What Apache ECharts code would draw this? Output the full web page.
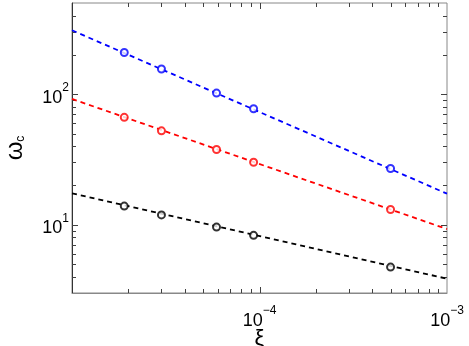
<!DOCTYPE html>
<html>
<head>
<meta charset="utf-8">
<script src="https://cdn.jsdelivr.net/npm/echarts@6/dist/echarts.min.js"></script>
<style>html,body{margin:0;padding:0;background:#fff;}#c{width:469px;height:346px;}</style>
</head>
<body>
<div id="c"></div>
<script>
// data
var xi = [1.9e-5, 3.0e-5, 5.9e-5, 9.3e-5, 5.0e-4];
var blueVals = [209, 156, 102, 77.4, 27.0];
var redVals = [66.5, 52.4, 37.7, 30.1, 13.1];
var blackVals = [13.9, 11.9, 9.6, 8.3, 4.74];
var fitX = [1e-5, 1e-3];
var blueFit = [309, 17.3];
var redFit = [92, 9.27];
var blackFit = [17.4, 3.86];
var xMajorLabels = [1e-4, 1e-3];
var yMajorLabels = [10, 100];
var xMajorTicks = [1e-4];
var yMajorTicks = [10, 100];
var xMinor = [2e-5,3e-5,4e-5,5e-5,6e-5,7e-5,8e-5,9e-5,2e-4,3e-4,4e-4,5e-4,6e-4,7e-4,8e-4,9e-4];
var yMinor = [4,5,6,7,8,9,20,30,40,50,60,70,80,90,200,300,400];
var xRange = [1e-5, 1e-3];
var yRange = [3, 500];

function pairs(xs, ys){ return xs.map(function(x,i){return [x, ys[i]];}); }
function powLabel(v){
  var e = Math.round(Math.log10(v));
  var s = e < 0 ? '\u2212' + (-e) : String(e);
  return '{b|10}{e|' + s + '}';
}
var FONT = '"Liberation Sans", Arial, Helvetica, sans-serif';
var richLab = {
  b: {fontSize: 18, fontFamily: FONT, color: '#000', padding: [7,0,0,0]},
  e: {fontSize: 12, fontFamily: FONT, color: '#000', verticalAlign: 'top'}
};

var xAxis = {
  type: 'log', logBase: 10, min: xRange[0], max: xRange[1], position: 'bottom',
  axisLine: {show: true, onZero: false, lineStyle: {color: '#888', width: 1}},
  axisTick: {show: false},
  axisLabel: {show: true, customValues: xMajorLabels, formatter: powLabel, rich: richLab, margin: 12},
  splitLine: {show: false}, minorTick: {show: false}, minorSplitLine: {show: false},
  name: '\u03be', nameLocation: 'middle', nameGap: 35, nameMoveOverlap: false,
  nameTextStyle: {fontSize: 22, fontFamily: FONT, color: '#000'}
};
var yAxis = {
  type: 'log', logBase: 10, min: yRange[0], max: yRange[1], position: 'left',
  axisLine: {show: true, onZero: false, lineStyle: {color: '#333', width: 1}},
  axisTick: {show: false},
  axisLabel: {show: true, customValues: yMajorLabels, formatter: powLabel, rich: richLab, margin: 3},
  splitLine: {show: false}, minorTick: {show: false}, minorSplitLine: {show: false},
  name: '{w|\u03c9}{s|c}', nameLocation: 'middle', nameRotate: 90, nameGap: 45, nameMoveOverlap: false,
  nameTextStyle: {rich: {
    w: {fontSize: 24, fontFamily: FONT, color: '#000'},
    s: {fontSize: 12, fontFamily: FONT, color: '#000', verticalAlign: 'bottom'}
  }}
};

var TICK = '#404040';
function xTickRender(params, api){
  var v = api.value(0), L = api.value(2);
  var b = api.coord([v, yRange[0]]), t = api.coord([v, yRange[1]]);
  var x = Math.round(b[0]) + 0.5;
  return {type: 'group', children: [
    {type: 'line', shape: {x1: x, y1: b[1], x2: x, y2: b[1] - L}, style: {stroke: TICK, lineWidth: 1}},
    {type: 'line', shape: {x1: x, y1: t[1], x2: x, y2: t[1] + L}, style: {stroke: TICK, lineWidth: 1}}
  ]};
}
function yTickRender(params, api){
  var v = api.value(1), L = api.value(2);
  var l = api.coord([xRange[0], v]), r = api.coord([xRange[1], v]);
  var y = Math.round(l[1]) + 0.5;
  return {type: 'group', children: [
    {type: 'line', shape: {x1: l[0], y1: y, x2: l[0] + L, y2: y}, style: {stroke: TICK, lineWidth: 1}},
    {type: 'line', shape: {x1: r[0], y1: y, x2: r[0] - L, y2: y}, style: {stroke: TICK, lineWidth: 1}}
  ]};
}
var xTickData = xMinor.map(function(v){return [v, yRange[0], 4];})
  .concat(xMajorTicks.map(function(v){return [v, yRange[0], 6];}));
var yTickData = yMinor.map(function(v){return [xRange[0], v, 4];})
  .concat(yMajorTicks.map(function(v){return [xRange[0], v, 6];}));

function fitSeries(ys, color){
  return {type: 'line', data: pairs(fitX, ys), showSymbol: false, symbol: 'none',
    lineStyle: {color: color, width: 1.8, type: [5, 4]}, silent: true};
}
function ptSeries(ys, color){
  return {type: 'scatter', data: pairs(xi, ys), symbol: 'emptyCircle', symbolSize: 7,
    itemStyle: {color: color, borderColor: color, borderWidth: 2.5}, z: 3};
}

var chart = echarts.init(document.getElementById('c'), null, {renderer: 'canvas'});
chart.setOption({
  backgroundColor: '#fff',
  animation: false,
  grid: {left: 72, right: 22, top: 3, bottom: 53, containLabel: false, outerBoundsMode: 'none', show: true,
         borderColor: '#888', borderWidth: 1, backgroundColor: 'rgba(0,0,0,0)'},
  xAxis: xAxis,
  yAxis: yAxis,
  series: [
    {type: 'custom', renderItem: xTickRender, data: xTickData, clip: false},
    {type: 'custom', renderItem: yTickRender, data: yTickData, clip: false},
    fitSeries(blueFit, '#0000ff'), ptSeries(blueVals, '#0000ff'),
    fitSeries(redFit, '#ff0000'), ptSeries(redVals, '#ff0000'),
    fitSeries(blackFit, '#000000'), ptSeries(blackVals, '#000000')
  ]
});
</script>
</body>
</html>
